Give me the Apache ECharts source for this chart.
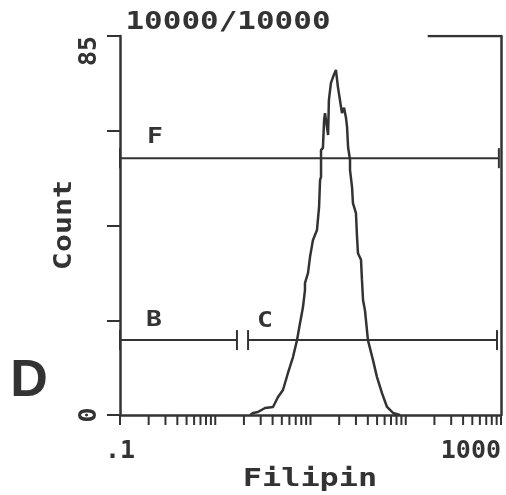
<!DOCTYPE html>
<html><head><meta charset="utf-8">
<script src="https://cdn.jsdelivr.net/npm/echarts@6/dist/echarts.min.js"></script>
<style>html,body{margin:0;padding:0;background:#fff}#c{width:506px;height:495px}</style>
</head><body><div id="c"></div>
<script>
// Histogram trace (Filipin fluorescence, log scale) and counts
const histX = [2.32, 2.49, 2.81, 3.33, 4.04, 4.56, 5.14, 5.80, 6.55, 7.22, 7.76, 8.34, 8.75, 8.75, 9.41, 9.88, 10.6, 11.7, 12.3, 12.6, 12.9, 12.9, 13.5, 13.9, 14.2, 14.9, 15.3, 15.6, 16.4, 17.2, 17.6, 18.5, 19.0, 19.4, 20.4, 21.4, 22.5, 23.6, 24.2, 24.8, 26.0, 26.0, 27.3, 27.9, 30.0, 30.8, 31.5, 33.9, 34.7, 35.6, 37.3, 40.1, 45.3, 49.9, 56.3, 63.6, 73.5, 87.0];
const histY = [0, 0.45, 0.67, 1.57, 1.79, 4.04, 5.61, 9.42, 13.0, 16.8, 20.6, 24.2, 28.0, 29.6, 31.8, 35.4, 39.2, 41.5, 46.6, 52.7, 53.4, 59.4, 59.9, 66.2, 67.7, 68.0, 62.8, 70.6, 74.5, 74.7, 76.3, 77.4, 77.8, 73.6, 70.6, 67.7, 68.9, 66.6, 64.6, 60.1, 57.2, 54.9, 51.1, 47.5, 45.3, 39.9, 36.3, 34.8, 30.3, 25.8, 23.5, 16.8, 12.3, 8.5, 4.9, 1.8, 0.45, 0];

// Gates
const gateNames = ['F', 'B', 'C'];
const gateStart = [0.1, 0.1, 2.21];
const gateEnd = [950, 1.69, 908];
const gateLevel = [57.6, 16.8, 16.8];

// Axes
const xMin = 0.1, xMax = 1000;
const yMin = 0, yMax = 85, yInterval = 21.25;
const xTickLabels = ['.1', '1000'];
const yTickLabels = ['0', '85'];
const xMinorMultipliers = [1, 2, 3, 4, 5, 6, 7, 8, 9];
const xDecades = [0.1, 1, 10, 100];
const topFrame = [170, 1000];

const INK = '#333';
const MONO = '"DejaVu Sans Mono", monospace';

const tickValues = [];
xDecades.forEach(d => xMinorMultipliers.forEach(m => tickValues.push(+(d * m).toPrecision(3))));
tickValues.push(xMax);

function near(a, b) { return Math.abs(a - b) < 1e-6 * Math.max(1, Math.abs(b)); }

const chart = echarts.init(document.getElementById('c'));

const gateSymbol = 'path://M0,0H1V10H0Z';

const series = [];
gateNames.forEach((g, i) => {
  series.push({
    type: 'line', name: 'gate ' + g,
    data: [[gateStart[i], gateLevel[i]], [gateEnd[i], gateLevel[i]]],
    symbol: gateSymbol, symbolSize: [2, 20], showSymbol: true,
    itemStyle: { color: INK }, lineStyle: { color: INK, width: 2 },
    silent: true, z: 3
  });
});
series.push({
  type: 'line', name: 'frame',
  data: [[topFrame[0], yMax], [topFrame[1], yMax]],
  symbol: 'none', lineStyle: { color: INK, width: 2.5 }, silent: true, z: 3
});
series.push({
  type: 'line', name: 'Filipin histogram',
  data: histX.map((x, i) => [x, histY[i]]),
  symbol: 'none', lineStyle: { color: INK, width: 2.5 }, z: 4, silent: true
});
series.push({
  type: 'custom', name: 'xticks',
  data: tickValues.map(v => [v, 0]),
  renderItem: function (params, api) {
    const p = api.coord([api.value(0), 0]);
    return { type: 'line', shape: { x1: p[0], y1: p[1], x2: p[0], y2: p[1] + 10 },
      style: { stroke: INK, lineWidth: 2 } };
  },
  silent: true, z: 2
});

chart.setOption({
  animation: false,
  backgroundColor: '#fff',
  grid: { left: 120, right: 5, top: 36, bottom: 80 },
  xAxis: {
    type: 'log', logBase: 10, min: xMin, max: xMax,
    axisLine: { lineStyle: { color: INK, width: 2.5 } },
    axisTick: { show: false },
    splitLine: { show: false },
    minorTick: { show: false },
    axisLabel: {
      margin: 24, color: INK, fontFamily: MONO, fontWeight: 'bold', fontSize: 25,
      showMinLabel: true, showMaxLabel: true,
      alignMinLabel: 'center', alignMaxLabel: 'right',
      formatter: v => near(v, xMin) ? xTickLabels[0] : (near(v, xMax) ? xTickLabels[1] : '')
    }
  },
  yAxis: [{
    type: 'value', min: yMin, max: yMax, interval: yInterval,
    axisLine: { show: true, lineStyle: { color: INK, width: 2.5 } },
    axisTick: { show: true, inside: false, length: 13, lineStyle: { color: INK, width: 2 } },
    splitLine: { show: false },
    axisLabel: {
      rotate: 90, margin: 18, color: INK, fontFamily: MONO, fontWeight: 'bold', fontSize: 25,
      showMinLabel: true, showMaxLabel: true, alignMaxLabel: 'right',
      formatter: v => near(v, yMin) ? yTickLabels[0] : (near(v, yMax) ? yTickLabels[1] : '')
    }
  }, {
    type: 'value', position: 'right', min: yMin, max: yMax,
    axisLine: { show: true, lineStyle: { color: INK, width: 2.5 } },
    axisTick: { show: false }, axisLabel: { show: false }, splitLine: { show: false }
  }],
  series: series,
  graphic: [
    { type: 'text', x: 228, y: 23, scaleX: 1.29, style: { text: '10000/10000', font: 'bold 24px ' + MONO, fill: INK, textAlign: 'center', textVerticalAlign: 'middle' } },
    { type: 'text', x: 310, y: 480, scaleX: 1.33, style: { text: 'Filipin', font: 'bold 24px ' + MONO, fill: INK, textAlign: 'center', textVerticalAlign: 'middle' } },
    { type: 'text', x: 65, y: 225, rotation: Math.PI / 2, scaleX: 1.25, style: { text: 'Count', font: 'bold 24px ' + MONO, fill: INK, textAlign: 'center', textVerticalAlign: 'middle' } },
    { type: 'text', x: 29, y: 382, style: { text: 'D', font: 'bold 52px "Liberation Sans", Arial, sans-serif', fill: INK, textAlign: 'center', textVerticalAlign: 'middle' } },
    { type: 'text', x: 155, y: 137, scaleX: 1.2, style: { text: gateNames[0], font: 'bold 22px ' + MONO, fill: INK, textAlign: 'center', textVerticalAlign: 'middle' } },
    { type: 'text', x: 154, y: 320, scaleX: 1.2, style: { text: gateNames[1], font: 'bold 22px ' + MONO, fill: INK, textAlign: 'center', textVerticalAlign: 'middle' } },
    { type: 'text', x: 265, y: 321, scaleX: 1.2, style: { text: gateNames[2], font: 'bold 22px ' + MONO, fill: INK, textAlign: 'center', textVerticalAlign: 'middle' } }
  ]
});
</script></body></html>
